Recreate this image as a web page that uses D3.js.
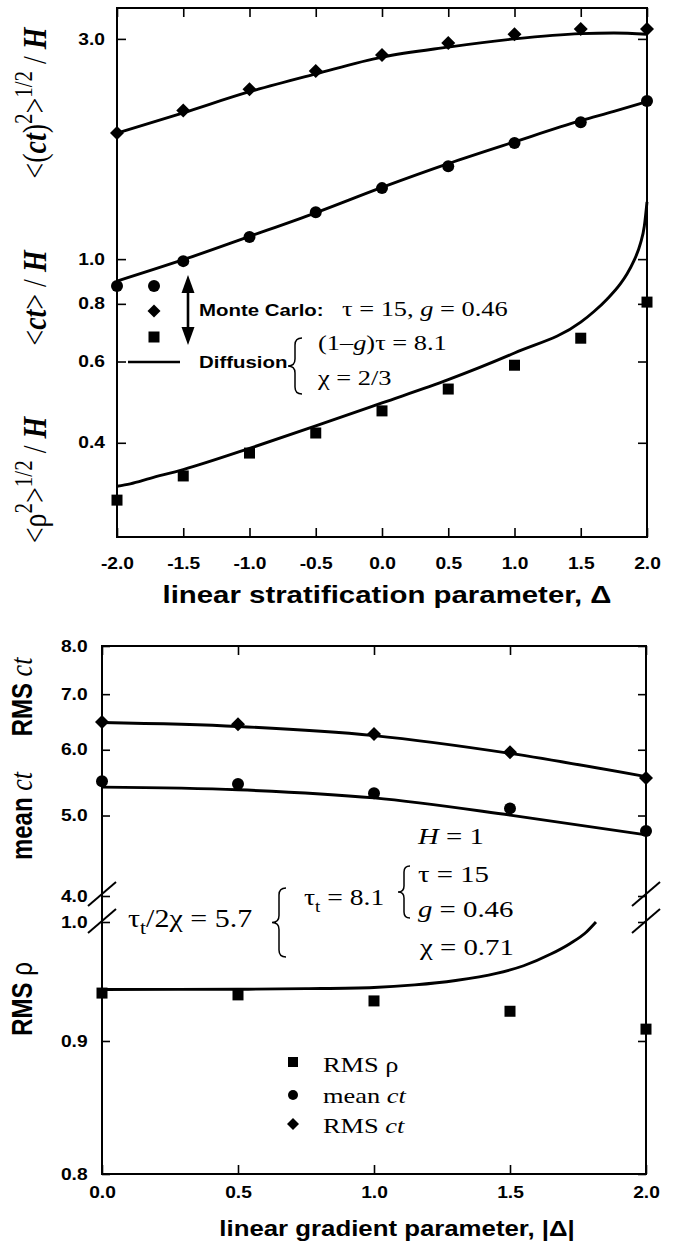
<!DOCTYPE html>
<html>
<head>
<meta charset="utf-8">
<script src="https://cdn.jsdelivr.net/npm/d3@7"></script>
<style>
  html, body { margin: 0; padding: 0; background: #fff; }
  svg { display: block; }
</style>
</head>
<body>
<svg id="chart" width="677" height="1245"></svg>
<script>
// ---------- data: stratified medium, Monte Carlo vs diffusion ----------
// upper panel (linear stratification parameter Δ)
const deltaTop = [-2, -1.5, -1, -0.5, 0, 0.5, 1, 1.5, 2];
const mcRmsCt   = [1.875, 2.10, 2.335, 2.556, 2.77, 2.94, 3.07, 3.15, 3.15];
const mcMeanCt  = [0.874, 0.99, 1.116, 1.264, 1.425, 1.59, 1.784, 1.98, 2.20];
const mcRmsRho  = [0.3005, 0.339, 0.380, 0.420, 0.469, 0.523, 0.589, 0.674, 0.807];

const diffDeltaCt  = [-2, -1.5, -1, -0.5, 0, 0.5, 1, 1.5, 1.75, 2];
const diffRmsCt    = [1.875, 2.075, 2.305, 2.52, 2.74, 2.88, 3.00, 3.08, 3.09, 3.07];
const diffMeanCt   = [0.896, 0.997, 1.12, 1.26, 1.43, 1.61, 1.795, 1.995, 2.09, 2.195];
const diffDeltaRho = [-2, -1.9, -1.75, -1.5, -1, -0.5, 0, 0.5, 1, 1.5, 1.6, 1.7, 1.8, 1.85, 1.9, 1.95, 1.98, 2];
const diffRmsRho   = [0.322, 0.326, 0.335, 0.350, 0.389, 0.435, 0.488, 0.548, 0.626, 0.730, 0.770, 0.820, 0.885, 0.93, 0.99, 1.08, 1.18, 1.33];

const xTicksTop = [-2, -1.5, -1, -0.5, 0, 0.5, 1, 1.5, 2];
const yTicksTop = [0.4, 0.6, 0.8, 1.0, 3.0];

// lower panel (linear gradient parameter |Δ|)
const deltaBot  = [0, 0.5, 1, 1.5, 2];
const mcRmsCtB  = [6.48, 6.44, 6.27, 5.96, 5.55];
const mcMeanCtB = [5.50, 5.455, 5.32, 5.10, 4.79];
const mcRmsRhoB = [0.939, 0.9375, 0.9325, 0.924, 0.9095];

const diffDeltaB   = [0, 0.5, 1, 1.5, 2];
const diffRmsCtB   = [6.47, 6.40, 6.24, 5.94, 5.57];
const diffMeanCtB  = [5.41, 5.37, 5.25, 5.006, 4.74];
const diffDeltaRhoB = [0, 0.5, 0.75, 1.0, 1.15, 1.3, 1.45, 1.55, 1.65, 1.72, 1.78, 1.816];
const diffRmsRhoB   = [0.942, 0.9422, 0.9427, 0.9437, 0.9458, 0.9495, 0.9555, 0.962, 0.972, 0.981, 0.991, 1.0];

const xTicksBot = [0, 0.5, 1, 1.5, 2];
const yTicksUpper = [4, 5, 6, 7, 8];
const yTicksLower = [0.8, 0.9, 1.0];

// ---------- drawing ----------
const SX = 1.2;  // horizontal stretch of the lettering
const SANS = "'Liberation Sans', Arial, Helvetica, sans-serif";
const SERIF = "'Liberation Serif', 'Times New Roman', Times, serif";
const svg = d3.select('#chart');

function label(x, y, opt = {}) {
  const g = svg.append('g')
    .attr('transform', `translate(${x},${y}) scale(${SX},1)` + (opt.rotate ? ' rotate(-90)' : ''));
  return g.append('text')
    .attr('font-family', opt.family || SERIF)
    .attr('font-size', opt.size || 22)
    .attr('font-weight', opt.weight || 'normal')
    .attr('text-anchor', opt.anchor || 'start')
    .attr('fill', '#000');
}
function span(t, s, opt = {}) {
  const ts = t.append('tspan').text(s);
  if (opt.italic) ts.attr('font-style', 'italic');
  if (opt.bold) ts.attr('font-weight', 'bold');
  if (opt.family) ts.attr('font-family', opt.family);
  if (opt.size) ts.attr('font-size', opt.size);
  if (opt.dy) ts.attr('dy', opt.dy);
  return ts;
}
function brace(x, y0, y1, w) {
  const xm = x + w / 2, xr = x + w, ym = (y0 + y1) / 2, r = Math.min(w / 2, (y1 - y0) / 8);
  return `M${xr},${y0} Q${xm},${y0} ${xm},${y0 + r} L${xm},${ym - r} Q${xm},${ym} ${x},${ym}` +
         ` Q${xm},${ym} ${xm},${ym + r} L${xm},${y1 - r} Q${xm},${y1} ${xr},${y1}`;
}
function diamondPath(cx, cy, h) {
  return `M${cx},${cy - h} L${cx + h},${cy} L${cx},${cy + h} L${cx - h},${cy} Z`;
}
function drawMarkers(g, xs, ys, x, y, kind, size) {
  const sel = g.selectAll(null).data(xs.map((d, i) => [d, ys[i]]));
  if (kind === 'circle') {
    sel.enter().append('circle').attr('cx', d => x(d[0])).attr('cy', d => y(d[1])).attr('r', size).attr('fill', '#000');
  } else if (kind === 'square') {
    sel.enter().append('rect').attr('x', d => x(d[0]) - size / 2).attr('y', d => y(d[1]) - size / 2)
      .attr('width', size).attr('height', size).attr('fill', '#000');
  } else {
    sel.enter().append('path').attr('d', d => diamondPath(x(d[0]), y(d[1]), size)).attr('fill', '#000');
  }
}
function drawCurve(g, xs, ys, x, y) {
  const line = d3.line().x(d => x(d[0])).y(d => y(d[1])).curve(d3.curveMonotoneX);
  g.append('path').attr('d', line(xs.map((d, i) => [d, ys[i]])))
    .attr('fill', 'none').attr('stroke', '#000').attr('stroke-width', 2.9).attr('stroke-linejoin', 'round');
}
function styleAxis(g, fontSize) {
  g.select('.domain').remove();
  g.selectAll('.tick line').attr('stroke', '#000').attr('stroke-width', 1.6);
  g.selectAll('.tick text')
    .attr('font-family', SANS).attr('font-weight', 'bold').attr('font-size', fontSize).attr('fill', '#000');
}
const fmt = d => d.toFixed(1);

// ===== upper panel =====
const xT = d3.scaleLinear().domain([-2, 2]).range([117, 647]);
const yT = d3.scaleLog().domain([0.25, 3.5]).range([537, 8]);
const upper = svg.append('g');

const axB = upper.append('g').attr('transform', `translate(0,${yT.range()[0]})`)
  .call(d3.axisBottom(xT).tickValues(xTicksTop).tickSizeInner(-9).tickSizeOuter(0).tickPadding(21).tickFormat(fmt));
styleAxis(axB, 16);
axB.selectAll('.tick text').attr('transform', `scale(${SX},1)`);
const axT = upper.append('g').attr('transform', `translate(0,${yT.range()[1]})`)
  .call(d3.axisTop(xT).tickValues(xTicksTop).tickSizeInner(-9).tickSizeOuter(0).tickFormat(''));
styleAxis(axT, 16);
const axL = upper.append('g').attr('transform', `translate(${xT.range()[0]},0)`)
  .call(d3.axisLeft(yT).tickValues(yTicksTop).tickSizeInner(-9).tickSizeOuter(0).tickPadding(10).tickFormat(fmt));
styleAxis(axL, 16);
axL.selectAll('.tick text').attr('transform', `scale(${SX},1)`);
const axR = upper.append('g').attr('transform', `translate(${xT.range()[1]},0)`)
  .call(d3.axisRight(yT).tickValues(yTicksTop).tickSizeInner(-9).tickSizeOuter(0).tickFormat(''));
styleAxis(axR, 16);

upper.append('rect').attr('x', 117).attr('y', 8).attr('width', 530).attr('height', 529)
  .attr('fill', 'none').attr('stroke', '#000').attr('stroke-width', 2);

drawCurve(upper, diffDeltaCt, diffRmsCt, xT, yT);
drawCurve(upper, diffDeltaCt, diffMeanCt, xT, yT);
drawCurve(upper, diffDeltaRho, diffRmsRho, xT, yT);
drawMarkers(upper, deltaTop, mcRmsCt, xT, yT, 'diamond', 7);
drawMarkers(upper, deltaTop, mcMeanCt, xT, yT, 'circle', 6);
drawMarkers(upper, deltaTop, mcRmsRho, xT, yT, 'square', 11);

// legend
upper.append('circle').attr('cx', 154).attr('cy', 286).attr('r', 6);
upper.append('path').attr('d', diamondPath(154, 311, 6.5));
upper.append('rect').attr('x', 148.5).attr('y', 331.5).attr('width', 11).attr('height', 11);
upper.append('line').attr('x1', 128).attr('x2', 180).attr('y1', 362).attr('y2', 362)
  .attr('stroke', '#000').attr('stroke-width', 2.6);
upper.append('line').attr('x1', 188).attr('x2', 188).attr('y1', 290).attr('y2', 330)
  .attr('stroke', '#000').attr('stroke-width', 2.6);
upper.append('path').attr('d', 'M188,275 L194.5,293 L181.5,293 Z');
upper.append('path').attr('d', 'M188,345 L194.5,327 L181.5,327 Z');

span(label(199, 316, { family: SANS, weight: 'bold', size: 17 }), 'Monte Carlo:');
const mc = label(342, 316, { size: 22 });
span(mc, '\u03C4 = 15, '); span(mc, 'g', { italic: true }); span(mc, ' = 0.46');
span(label(199, 368, { family: SANS, weight: 'bold', size: 17 }), 'Diffusion');
upper.append('path').attr('d', brace(288, 338, 394, 14)).attr('fill', 'none').attr('stroke', '#000').attr('stroke-width', 1.5);
const d1 = label(318, 350, { size: 22 });
span(d1, '(1\u2013'); span(d1, 'g', { italic: true }); span(d1, ')\u03C4 = 8.1');
span(label(318, 385, { size: 22 }), '\u03C7 = 2/3');

// rotated axis titles
const l1 = label(46, 103, { size: 28, rotate: true, anchor: 'middle' });
span(l1, '<('); span(l1, 'ct', { italic: true, bold: true }); span(l1, ')');
span(l1, '2', { size: 21, dy: -12 }); span(l1, '>', { dy: 12 });
span(l1, '1/2', { size: 21, dy: -12 }); span(l1, ' / ', { dy: 12 });
span(l1, 'H', { italic: true, bold: true });

const l2 = label(46, 298, { size: 28, rotate: true, anchor: 'middle' });
span(l2, '<'); span(l2, 'ct', { italic: true, bold: true }); span(l2, '> / ');
span(l2, 'H', { italic: true, bold: true });

const l3 = label(46, 480, { size: 28, rotate: true, anchor: 'middle' });
span(l3, '<\u03C1'); span(l3, '2', { size: 21, dy: -12 }); span(l3, '>', { dy: 12 });
span(l3, '1/2', { size: 21, dy: -12 }); span(l3, ' / ', { dy: 12 });
span(l3, 'H', { italic: true, bold: true });

span(label(387, 603, { family: SANS, weight: 'bold', size: 24.5, anchor: 'middle' }),
  'linear stratification parameter, \u0394');

// ===== lower panel =====
const xB = d3.scaleLinear().domain([0, 2]).range([102, 646]);
const yU = d3.scaleLog().domain([4, 8]).range([896, 646]);
const yL = d3.scaleLog().domain([0.8, 1.0]).range([1174, 922]);
const lower = svg.append('g');

const bB = lower.append('g').attr('transform', `translate(0,1174)`)
  .call(d3.axisBottom(xB).tickValues(xTicksBot).tickSizeInner(-9).tickSizeOuter(0).tickPadding(13).tickFormat(fmt));
styleAxis(bB, 16);
bB.selectAll('.tick text').attr('transform', `scale(${SX},1)`);
const bT = lower.append('g').attr('transform', `translate(0,646)`)
  .call(d3.axisTop(xB).tickValues(xTicksBot).tickSizeInner(-9).tickSizeOuter(0).tickFormat(''));
styleAxis(bT, 16);
[[yU, yTicksUpper], [yL, yTicksLower]].forEach(([sc, tv]) => {
  const l = lower.append('g').attr('transform', `translate(102,0)`)
    .call(d3.axisLeft(sc).tickValues(tv).tickSizeInner(-8).tickSizeOuter(0).tickPadding(12).tickFormat(fmt));
  styleAxis(l, 16);
  l.selectAll('.tick text').attr('transform', `scale(${SX},1)`);
  const r = lower.append('g').attr('transform', `translate(646,0)`)
    .call(d3.axisRight(sc).tickValues(tv).tickSizeInner(-8).tickSizeOuter(0).tickFormat(''));
  styleAxis(r, 16);
});
lower.append('rect').attr('x', 102).attr('y', 646).attr('width', 544).attr('height', 528)
  .attr('fill', 'none').attr('stroke', '#000').attr('stroke-width', 2);

// axis break marks
[102, 646].forEach(ax => {
  [yU(4) - 2, yL(1.0) - 1].forEach(by => {
    lower.append('line').attr('x1', ax - 14).attr('y1', by + 12).attr('x2', ax + 14).attr('y2', by - 12)
      .attr('stroke', '#000').attr('stroke-width', 2);
  });
});

drawCurve(lower, diffDeltaB, diffRmsCtB, xB, yU);
drawCurve(lower, diffDeltaB, diffMeanCtB, xB, yU);
drawCurve(lower, diffDeltaRhoB, diffRmsRhoB, xB, yL);
drawMarkers(lower, deltaBot, mcRmsCtB, xB, yU, 'diamond', 7);
drawMarkers(lower, deltaBot, mcMeanCtB, xB, yU, 'circle', 6);
drawMarkers(lower, deltaBot, mcRmsRhoB, xB, yL, 'square', 11);

// parameters
const p1 = label(128, 927, { size: 25 });
span(p1, '\u03C4'); span(p1, 't', { size: 18, dy: 7 }); span(p1, '/2\u03C7 = 5.7', { dy: -7 });
lower.append('path').attr('d', brace(272, 888, 957, 14)).attr('fill', 'none').attr('stroke', '#000').attr('stroke-width', 1.5);
const p2 = label(304, 905, { size: 23 });
span(p2, '\u03C4'); span(p2, 't', { size: 16, dy: 7 }); span(p2, ' = 8.1', { dy: -7 });
lower.append('path').attr('d', brace(398, 866, 918, 12)).attr('fill', 'none').attr('stroke', '#000').attr('stroke-width', 1.5);
const p3 = label(418, 844, { size: 24 });
span(p3, 'H', { italic: true }); span(p3, ' = 1');
span(label(418, 882, { size: 24 }), '\u03C4 = 15');
const p5 = label(418, 917, { size: 24 });
span(p5, 'g', { italic: true }); span(p5, ' = 0.46');
span(label(420, 955, { size: 24 }), '\u03C7 = 0.71');

// legend
lower.append('rect').attr('x', 288).attr('y', 1057).attr('width', 10).attr('height', 10);
lower.append('circle').attr('cx', 293).attr('cy', 1095).attr('r', 5);
lower.append('path').attr('d', diamondPath(293, 1124, 6));
span(label(323, 1072, { size: 22 }), 'RMS \u03C1');
const lg2 = label(323, 1103, { size: 22 }); span(lg2, 'mean '); span(lg2, 'ct', { italic: true });
const lg3 = label(323, 1133, { size: 22 }); span(lg3, 'RMS '); span(lg3, 'ct', { italic: true });

// rotated axis titles
const b1 = label(32, 697, { family: SANS, weight: 'bold', size: 24, rotate: true, anchor: 'middle' });
span(b1, 'RMS '); span(b1, 'ct', { family: SERIF, italic: true, size: 26 }).attr('font-weight', 'normal');
const b2 = label(32, 816, { family: SANS, weight: 'bold', size: 24, rotate: true, anchor: 'middle' });
span(b2, 'mean '); span(b2, 'ct', { family: SERIF, italic: true, size: 26 }).attr('font-weight', 'normal');
const b3 = label(32, 999, { family: SANS, weight: 'bold', size: 24, rotate: true, anchor: 'middle' });
span(b3, 'RMS '); span(b3, '\u03C1', { size: 24 }).attr('font-weight', 'normal');

span(label(397, 1236, { family: SANS, weight: 'bold', size: 21.5, anchor: 'middle' }),
  'linear gradient parameter, |\u0394|');
</script>
</body>
</html>
